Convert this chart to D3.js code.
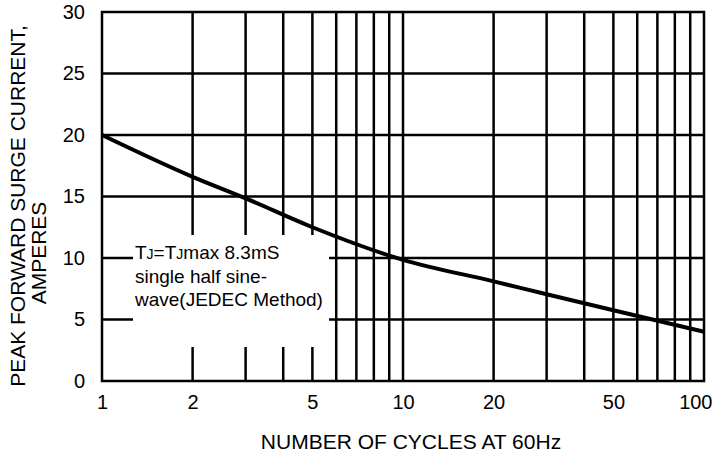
<!DOCTYPE html>
<html>
<head>
<meta charset="utf-8">
<script src="https://cdn.jsdelivr.net/npm/d3@7"></script>
<style>
  body { margin: 0; background: #fff; }
  text { font-family: "Liberation Sans", Arial, sans-serif; fill: #000; }
</style>
</head>
<body>
<svg id="chart"></svg>
<script>
// curve (cycles at 60Hz -> peak surge current, A)
const cycles = [1, 2, 3, 5, 10, 20, 30, 50, 100];
const current = [20, 16.6, 14.85, 12.5, 9.85, 8.1, 7.05, 5.75, 4.0];

const xTickValues = [1, 2, 5, 10, 20, 50, 100];
const xGridValues = [2, 3, 4, 5, 6, 7, 8, 9, 10, 20, 30, 40, 50, 60, 70, 80, 90];
const yTickValues = [0, 5, 10, 15, 20, 25, 30];
const yGridValues = [5, 10, 15, 20, 25];

const xTitle = 'NUMBER OF CYCLES AT 60Hz';
const yTitleLines = ['PEAK FORWARD SURGE CURRENT,', 'AMPERES'];
const noteLines = [
    [['T', 0], ['J', 1], ['=T', 0], ['J', 1], ['max 8.3mS', 0]],
    [['single half sine-', 0]],
    [['wave(JEDEC Method)', 0]]
];

const width = 715, height = 454;
const margin = {top: 12, right: 11, bottom: 73, left: 102};
const innerW = width - margin.left - margin.right;
const innerH = height - margin.top - margin.bottom;

const svg = d3.select('#chart')
    .attr('width', width)
    .attr('height', height);

const chart = svg.append('g')
    .attr('transform', `translate(${margin.left}, ${margin.top})`);

const x = d3.scaleLog().domain([1, 100]).range([0, innerW]);
const y = d3.scaleLinear().domain([0, 30]).range([innerH, 0]);

const lineW = 2.5;

// grid
chart.selectAll('.vgrid')
    .data(xGridValues)
    .enter()
    .append('line')
    .attr('x1', d => x(d)).attr('x2', d => x(d))
    .attr('y1', 0).attr('y2', innerH)
    .attr('stroke', '#000')
    .attr('stroke-width', lineW);

chart.selectAll('.hgrid')
    .data(yGridValues)
    .enter()
    .append('line')
    .attr('x1', 0).attr('x2', innerW)
    .attr('y1', d => y(d)).attr('y2', d => y(d))
    .attr('stroke', '#000')
    .attr('stroke-width', lineW);

// note box blanks out the grid behind the text
const note = {x: 31, y: 223, w: 196, h: 112};
chart.append('rect')
    .attr('x', note.x).attr('y', note.y)
    .attr('width', note.w).attr('height', note.h)
    .attr('fill', '#fff');

const noteText = chart.append('g')
    .attr('transform', `translate(${note.x + 2}, ${note.y + 24})`);
noteLines.forEach((parts, i) => {
    const t = noteText.append('text')
        .attr('y', i * 23.5)
        .style('font-size', '19px');
    parts.forEach(p => {
        t.append('tspan')
            .style('font-size', p[1] ? '14px' : '19px')
            .text(p[0]);
    });
});

// frame
chart.append('rect')
    .attr('width', innerW).attr('height', innerH)
    .attr('fill', 'none')
    .attr('stroke', '#000')
    .attr('stroke-width', lineW);

// curve
const line = d3.line()
    .x((d, i) => x(cycles[i]))
    .y(d => y(d))
    .curve(d3.curveMonotoneX);

chart.append('path')
    .attr('d', line(current))
    .attr('fill', 'none')
    .attr('stroke', '#000')
    .attr('stroke-width', 4);

// axes
const xaxis = d3.axisBottom(x)
    .tickValues(xTickValues)
    .tickFormat(d3.format('d'))
    .tickSize(0)
    .tickPadding(14);

const xg = chart.append('g')
    .attr('transform', `translate(0, ${innerH})`)
    .call(xaxis);
xg.select('.domain').remove();
xg.selectAll('text').style('font-size', '20px');
xg.selectAll('.tick').filter(d => d === 100).select('text')
    .attr('text-anchor', 'end')
    .attr('x', 8);

const yaxis = d3.axisLeft(y)
    .tickValues(yTickValues)
    .tickSize(0)
    .tickPadding(17);

const yg = chart.append('g').call(yaxis);
yg.select('.domain').remove();
yg.selectAll('text').style('font-size', '20px');

// titles
svg.append('text')
    .attr('x', 411)
    .attr('y', 449)
    .attr('text-anchor', 'middle')
    .style('font-size', '21px')
    .text(xTitle);

svg.append('text')
    .attr('transform', 'translate(25, 206) rotate(-90)')
    .attr('text-anchor', 'middle')
    .style('font-size', '21px')
    .text(yTitleLines[0]);

svg.append('text')
    .attr('transform', 'translate(46, 253) rotate(-90)')
    .attr('text-anchor', 'middle')
    .style('font-size', '21px')
    .text(yTitleLines[1]);
</script>
</body>
</html>
